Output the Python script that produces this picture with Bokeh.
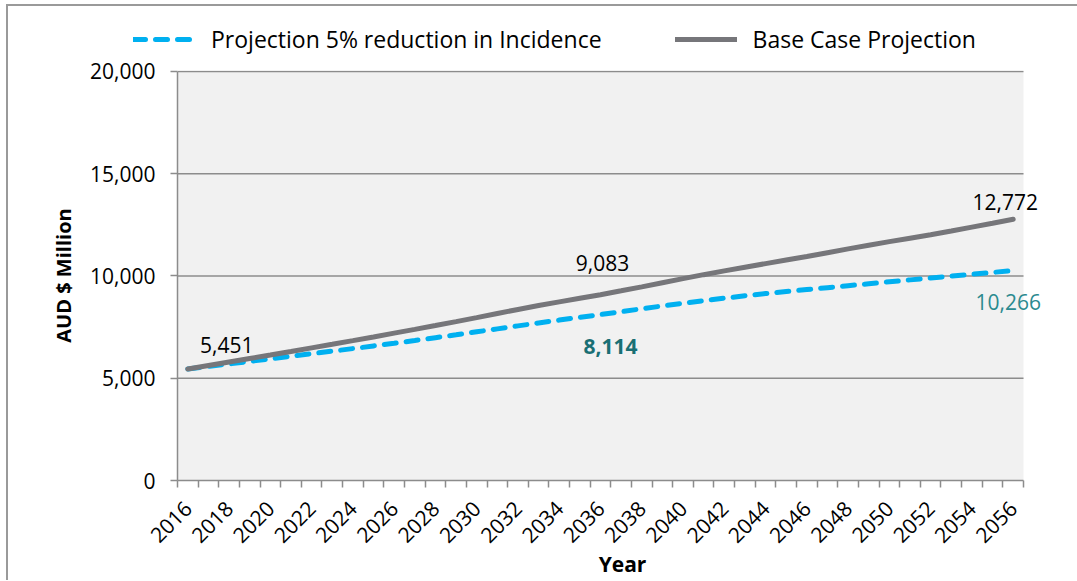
import math
from bokeh.plotting import figure
from bokeh.layouts import column
from bokeh.models import Range1d, FixedTicker, Legend, LegendItem
from bokeh.core.properties import value
from bokeh.embed import file_html
from bokeh.resources import INLINE

years = list(range(2016, 2057))
base_case = [5451, 5622, 5793, 5965, 6138, 6312, 6487, 6663, 6840, 7020,
             7205, 7390, 7578, 7770, 7965, 8165, 8365, 8555, 8735, 8910,
             9083, 9275, 9470, 9670, 9870, 10065, 10250, 10430, 10605, 10780,
             10955, 11140, 11325, 11505, 11680, 11850, 12015, 12200, 12390, 12580,
             12772]
reduction = [5451, 5575, 5700, 5825, 5950, 6075, 6200, 6325, 6450, 6580,
             6710, 6845, 6985, 7125, 7270, 7415, 7560, 7705, 7845, 7980,
             8114, 8255, 8395, 8535, 8670, 8795, 8915, 9030, 9140, 9240,
             9335, 9430, 9525, 9620, 9715, 9810, 9905, 9995, 10085, 10175,
             10266]
y_ticks = [0, 5000, 10000, 15000, 20000]
x_tick_years = list(range(2016, 2057, 2))
series_names = ["Projection 5% reduction in Incidence", "Base Case Projection"]

FONT = "Open Sans"
GREY_LINE = "#8c8c8c"
BLUE = "#00b0f0"
BASE_GREY = "#76767a"
FS = "21px"

W = 1069
LEG_H = 50
MAIN_H = 524
MB_LEFT, MB_RIGHT, MB_TOP, MB_BOTTOM = 169, 10, 14, 99
PLOT_W = 846      # width of the grey plot area in px
PLOT_H = 410      # height of the grey plot area in px
LEG_SHIFT = 44    # legend starts this far left of the plot area

x0 = years[0] - 0.5
x1 = years[-1] + 0.5
frame_w = W - MB_LEFT - MB_RIGHT
x_end = x0 + (x1 - x0) * frame_w / PLOT_W
y_end = y_ticks[-1] * (PLOT_H + 1) / PLOT_H

# ---------------- legend strip ----------------
leg = figure(width=W, height=LEG_H, output_backend="svg", toolbar_location=None,
             x_range=Range1d(0, 1), y_range=Range1d(0, 1),
             min_border=0, outline_line_color=None)
leg.axis.visible = False
leg.grid.visible = False
leg.background_fill_alpha = 0
leg.border_fill_alpha = 0
leg.styles = {"transform": f"translateX(-{LEG_SHIFT}px)"}
lr1 = leg.line(years, reduction, line_color=BLUE, line_width=5, line_dash="12 10",
               line_cap="round")
lr2 = leg.line(years, base_case, line_color=BASE_GREY, line_width=5,
               line_cap="round")
legend = Legend(items=[LegendItem(label=series_names[0], renderers=[lr1]),
                       LegendItem(label=series_names[1], renderers=[lr2])],
                orientation="horizontal", location=(0, 1),
                glyph_width=62, glyph_height=28, label_standoff=16, spacing=73,
                padding=0, margin=0, border_line_color=None,
                background_fill_alpha=0,
                label_text_font=FONT, label_text_font_size="23px",
                label_text_color="black")
leg.add_layout(legend, "center")

# ---------------- main chart ----------------
p = figure(width=W, height=MAIN_H, output_backend="svg", toolbar_location=None,
           x_range=Range1d(x0, x_end), y_range=Range1d(y_ticks[0], y_end),
           min_border_left=MB_LEFT, min_border_right=MB_RIGHT,
           min_border_top=MB_TOP, min_border_bottom=MB_BOTTOM)
p.background_fill_color = "white"
p.border_fill_color = "white"
p.outline_line_color = None
p.grid.visible = False

# plot area background and horizontal grid lines
p.quad(left=[x0], right=[x1], bottom=[y_ticks[0]], top=[y_ticks[-1]],
       fill_color="#f1f1f1", line_color=None)
p.segment(x0=[x0] * (len(y_ticks) - 1), x1=[x1] * (len(y_ticks) - 1),
          y0=y_ticks[1:], y1=y_ticks[1:], line_color=GREY_LINE, line_width=1.5)

# y axis
p.yaxis.ticker = FixedTicker(ticks=y_ticks)
p.yaxis.bounds = (y_ticks[0], y_ticks[-1])
p.yaxis.major_label_overrides = {t: f"{t:,}" for t in y_ticks}
p.yaxis.axis_line_color = GREY_LINE
p.yaxis.axis_line_width = 1.5
p.yaxis.major_tick_line_color = GREY_LINE
p.yaxis.major_tick_line_width = 1.5
p.yaxis.major_tick_in = 0
p.yaxis.major_tick_out = 7
p.yaxis.minor_tick_line_color = None
p.yaxis.major_label_standoff = 15
p.yaxis.major_label_text_font = FONT
p.yaxis.major_label_text_font_size = FS
p.yaxis.major_label_text_color = "black"
p.yaxis.axis_label = "AUD $ Million"
p.yaxis.axis_label_text_font = FONT
p.yaxis.axis_label_text_font_size = "20px"
p.yaxis.axis_label_text_font_style = "bold"
p.yaxis.axis_label_text_color = "black"
p.yaxis.axis_label_standoff = 10

# x axis
p.xaxis.ticker = FixedTicker(ticks=x_tick_years,
                             minor_ticks=[y - 0.5 for y in years] + [x1])
p.xaxis.bounds = (x0, x1)
p.xaxis.major_label_overrides = {t: str(t) for t in x_tick_years}
p.xaxis.axis_line_color = GREY_LINE
p.xaxis.axis_line_width = 1.5
p.xaxis.major_tick_line_color = None
p.xaxis.minor_tick_line_color = GREY_LINE
p.xaxis.minor_tick_line_width = 1.5
p.xaxis.minor_tick_in = 0
p.xaxis.minor_tick_out = 7
p.xaxis.major_label_orientation = math.pi / 4
p.xaxis.major_label_standoff = 17
p.xaxis.major_label_text_font = FONT
p.xaxis.major_label_text_font_size = FS
p.xaxis.major_label_text_color = "black"
p.xaxis.axis_label = "Year"
p.xaxis.axis_label_text_font = FONT
p.xaxis.axis_label_text_font_size = "21px"
p.xaxis.axis_label_text_font_style = "bold"
p.xaxis.axis_label_text_color = "black"
p.xaxis.axis_label_standoff = -3

p.line(years, reduction, line_color=BLUE, line_width=5,
       line_dash="12 10", line_cap="round")
p.line(years, base_case, line_color=BASE_GREY, line_width=5, line_cap="round")

# data labels
def lab(idx, series, dx, dy, color="black", style="normal"):
    p.text(x=[years[idx]], y=[series[idx]], text=[f"{series[idx]:,}"],
           x_offset=dx, y_offset=dy, text_align="center", text_baseline="middle",
           text_font=value(FONT), text_font_size=FS, text_color=color,
           text_font_style=style)

lab(0, base_case, 39, -24)
lab(20, base_case, 2, -32)
lab(40, base_case, -8, -17)
lab(40, reduction, -5, 31, color="#2b8a8f")
lab(20, reduction, 10, 32, color="#1a6f74", style="bold")

layout = column(leg, p, spacing=0)
layout.styles = {"border-top": "2px solid #9a9a9a", "border-left": "2px solid #9a9a9a",
                 "margin-left": "6px", "margin-top": "4px"}

open("out.html", "w").write(file_html(layout, INLINE))
